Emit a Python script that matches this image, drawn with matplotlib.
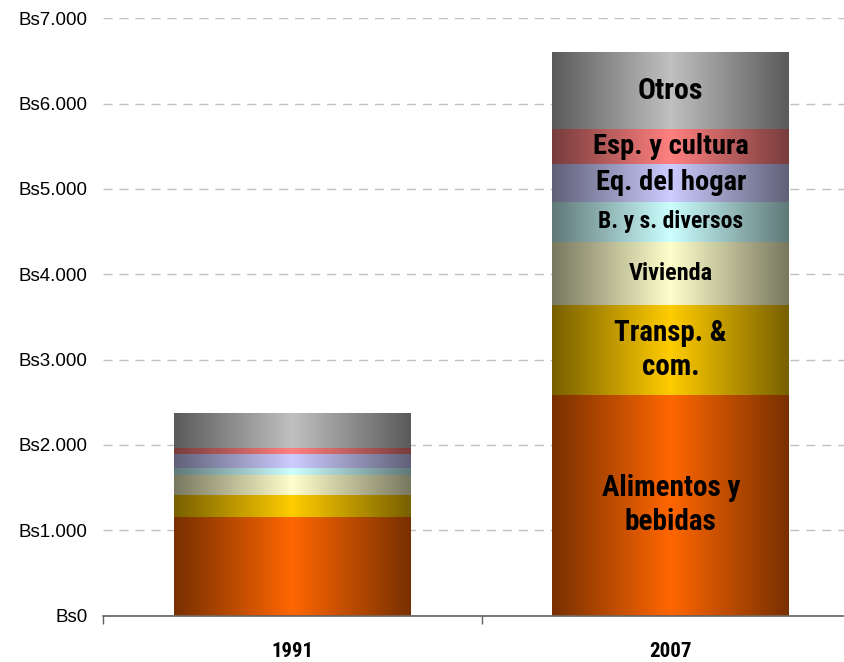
import numpy as np
import matplotlib
matplotlib.use("Agg")
import matplotlib.pyplot as plt
from matplotlib.ticker import FuncFormatter, FixedLocator

# ---- data ----
categories = ["1991", "2007"]
segments = ["Alimentos y\nbebidas", "Transp. &\ncom.", "Vivienda", "B. y s. diversos",
            "Eq. del hogar", "Esp. y cultura", "Otros"]
values_1991 = [1155, 258, 230, 86, 164, 74, 407]
values_2007 = [2588, 1052, 739, 469, 445, 407, 905]
yticks = [0, 1000, 2000, 3000, 4000, 5000, 6000, 7000]

# ---- style ----
center_colors = ["#ff6600", "#ffcc00", "#ffffcc", "#ccffff", "#ccccff", "#ff8080", "#c0c0c0"]
label_sizes = [21, 20.8, 17.5, 17, 20.5, 20.5, 21.5]
label_font = ["Roboto Condensed", "Liberation Sans", "DejaVu Sans"]

fig = plt.figure(figsize=(8.45, 6.62), dpi=100)
ax = fig.add_axes([103 / 845, 46.5 / 662, 757 / 845, 597.1 / 662])
ax.set_xlim(-0.5, 1.5)
ax.set_ylim(0, 7000)

# gradient profile (dark edges, bright center)
t = np.linspace(0, 1, 256)
prof = 0.47 + 0.53 * (1 - np.abs(2 * t - 1))

width = 0.626
data = [values_1991, values_2007]
for i, vals in enumerate(data):
    bottom = 0
    for j, v in enumerate(vals):
        bars = ax.bar(i, v, width=width, bottom=bottom, color=center_colors[j],
                      linewidth=0, zorder=2)
        patch = bars[0]
        c = np.array(matplotlib.colors.to_rgb(center_colors[j]))
        img = (prof[:, None] * c[None, :])[None, :, :]
        im = ax.imshow(img, extent=[i - width / 2, i + width / 2, bottom, bottom + v],
                       aspect="auto", interpolation="bilinear", zorder=3)
        im.set_clip_path(patch)
        if i == 1:
            ax.text(i, bottom + v / 2, segments[j], ha="center", va="center",
                    fontsize=label_sizes[j], fontweight="bold", family=label_font,
                    linespacing=1.3, zorder=4)
        bottom += v

# grid
ax.yaxis.set_major_locator(FixedLocator(yticks))
ax.yaxis.set_major_formatter(FuncFormatter(
    lambda y, p: "Bs0" if y == 0 else "Bs" + f"{int(y):,}".replace(",", ".")))
ax.grid(axis="y", color="#c0c0c0", linestyle=(0, (6.5, 5)), linewidth=1, zorder=0)
ax.set_axisbelow(True)
ax.tick_params(axis="y", length=0, pad=11, labelsize=13.5)
for lab in ax.get_yticklabels():
    lab.set_family(["Liberation Sans", "DejaVu Sans"])

ax.set_xticks([0, 1])
ax.set_xticklabels(categories, fontsize=15, fontweight="bold", family=label_font)
ax.tick_params(axis="x", which="major", length=0, pad=19)
ax.set_xticks([-0.5, 0.5, 1.5], minor=True)
ax.tick_params(axis="x", which="minor", length=6, width=1, color="#606060", direction="out")

for s in ["top", "right", "left"]:
    ax.spines[s].set_visible(False)
ax.spines["bottom"].set_color("#606060")
ax.spines["bottom"].set_linewidth(1.2)
ax.spines["bottom"].set_zorder(5)

fig.savefig("out.png", dpi=100)
